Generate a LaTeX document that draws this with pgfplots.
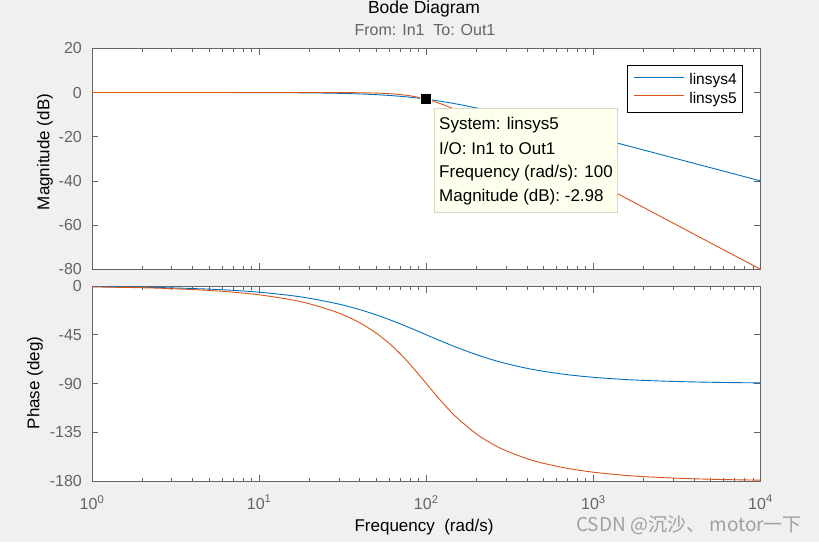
\documentclass[border=0pt]{standalone}
\usepackage{pgfplots}
\pgfplotsset{compat=1.18}
\usepackage{fontspec}
\setmainfont{Liberation Sans}
\newfontfamily\cjk{Noto Sans CJK SC}

\definecolor{figbg}{RGB}{240,240,240}
\definecolor{axgray}{RGB}{100,100,100}
\definecolor{mblue}{RGB}{0,114,189}
\definecolor{morange}{RGB}{217,83,25}
\definecolor{tipfill}{RGB}{255,255,238}
\definecolor{tipedge}{RGB}{215,215,195}

\pgfplotsset{
  bodeax/.style={
    scale only axis, width=668.5pt,
    xmin=1, xmax=10000,
    xtick={1,10,100,1000,10000},
    axis line style={axgray, line width=0.8pt},
    every tick/.style={axgray, line width=0.6pt},
    major tick length=6.5pt, minor tick length=3.5pt,
    tick label style={font=\fontsize{16}{18}\selectfont, text=axgray, inner sep=0pt},
    yticklabel style={xshift=-10pt},
    xticklabel style={yshift=-14pt},
    axis background/.style={fill=white},
  },
}

\begin{document}
\begin{tikzpicture}[x=1pt, y=1pt]
\useasboundingbox (0,0) rectangle (819,542);
\fill[figbg] (0,0) rectangle (819,542);

% magnitude
\begin{semilogxaxis}[bodeax, at={(92pt,272.7pt)}, anchor=south west, height=221pt,
  ymin=-80, ymax=20, ytick={-80,-60,-40,-20,0,20},
  yticklabels={-80,-60,-40,-20,0,20}, xticklabels={},
  legend style={at={(0.9738,0.9244)}, anchor=north east, draw=black,
    line width=0.6pt, fill=white, font=\fontsize{15.5}{17}\selectfont,
    inner xsep=6pt, inner ysep=8pt, nodes={inner sep=0pt}, column sep=5pt, row sep=6pt},
  legend cell align=left,
  legend image code/.code={\draw[#1, line width=0.9pt] (0pt,0.5ex) -- (50pt,0.5ex);},
]
\addplot[mblue, line width=0.9pt, smooth] coordinates {
 (1,-0.0004) (2,-0.0017) (5,-0.0108) (10,-0.0432) (20,-0.170) (30,-0.374)
 (40,-0.645) (50,-0.969) (60,-1.335) (70,-1.732) (80,-2.148) (90,-2.577)
 (100,-3.010) (110,-3.444) (125,-4.087) (150,-5.119) (200,-6.990) (250,-8.603)
 (300,-10.000) (400,-12.304) (500,-14.150) (700,-16.990) (1000,-20.043)
 (1500,-23.541) (2000,-26.031) (3000,-29.547) (5000,-33.981) (7000,-36.903)
 (10000,-40.000)
};
\addlegendentry{linsys4}
\addplot[morange, line width=0.9pt, smooth] coordinates {
 (1,0) (2,0) (5,0) (10,-0.0004) (20,-0.0069) (30,-0.035) (40,-0.110)
 (50,-0.263) (60,-0.530) (70,-0.935) (80,-1.491) (90,-2.191) (100,-3.010)
 (110,-3.917) (125,-5.367) (150,-7.827) (200,-12.304) (250,-16.027)
 (300,-19.138) (400,-24.099) (500,-27.966) (700,-33.806) (1000,-40.000)
 (1500,-47.044) (2000,-52.041) (3000,-59.085) (5000,-67.959) (7000,-73.804)
 (10000,-80.000)
};
\addlegendentry{linsys5}
% datatip marker
\addplot[forget plot, only marks, mark=square*, mark size=5.5pt,
  mark options={fill=black, draw=tipfill, line width=0.6pt}] coordinates {(100,-2.98)};
\end{semilogxaxis}

% phase
\begin{semilogxaxis}[bodeax, at={(92pt,61pt)}, anchor=south west, height=195pt,
  ymin=-180, ymax=0, ytick={-180,-135,-90,-45,0},
  yticklabels={-180,-135,-90,-45,0},
  xticklabels={10\textsuperscript{0},10\textsuperscript{1},10\textsuperscript{2},10\textsuperscript{3},10\textsuperscript{4}},
]
\addplot[mblue, line width=0.9pt, smooth] coordinates {
 (1,-0.573) (2,-1.146) (3,-1.718) (5,-2.862) (7,-4.004) (10,-5.711)
 (15,-8.531) (20,-11.310) (30,-16.699) (40,-21.801) (50,-26.565)
 (60,-30.964) (70,-34.992) (80,-38.660) (90,-41.987) (100,-45.000)
 (110,-47.726) (125,-51.340) (150,-56.310) (200,-63.435) (250,-68.199)
 (300,-71.565) (400,-75.964) (500,-78.690) (700,-81.870) (1000,-84.289)
 (1500,-86.186) (2000,-87.138) (3000,-88.091) (5000,-88.854) (7000,-89.182)
 (10000,-89.427)
};
\addplot[morange, line width=0.9pt, smooth] coordinates {
 (1,-0.810) (2,-1.621) (3,-2.432) (5,-4.055) (7,-5.681) (10,-8.130)
 (15,-12.244) (20,-16.418) (30,-24.990) (40,-33.960) (50,-43.310)
 (60,-52.980) (70,-62.740) (80,-72.350) (90,-81.510) (100,-90.000)
 (110,-97.690) (125,-107.650) (150,-120.510) (200,-136.690) (250,-146.040)
 (300,-152.060) (400,-159.340) (500,-163.580) (700,-168.350) (1000,-171.870)
 (1500,-174.590) (2000,-175.950) (3000,-177.300) (5000,-178.380)
 (7000,-178.840) (10000,-179.190)
};
\end{semilogxaxis}

% datatip box
\draw[tipedge, fill=tipfill, line width=0.7pt] (434.5,434) rectangle (617,330);
\begin{scope}[every node/.style={anchor=base west, inner sep=0pt, font=\fontsize{17}{20}\selectfont}]
\node at (439,412) {System: linsys5};
\node at (439,388) {I/O: In1 to Out1};
\node at (439,365) {Frequency (rad/s): 100};
\node at (439,340.5) {Magnitude (dB): -2.98};
\end{scope}

% titles and labels
\node[anchor=base, inner sep=0pt, font=\fontsize{17.5}{20}\selectfont] at (424,528.5) {Bode Diagram};
\node[anchor=base, inner sep=0pt, text=axgray, font=\fontsize{16}{18}\selectfont] at (425,506) {From: In1\ \ To: Out1};
\node[rotate=90, inner sep=0pt, font=\fontsize{17}{20}\selectfont] at (45,390) {Magnitude (dB)};
\node[rotate=90, inner sep=0pt, font=\fontsize{17}{20}\selectfont] at (35,159) {Phase (deg)};
\node[anchor=base, inner sep=0pt, font=\fontsize{17}{20}\selectfont] at (424,11) {Frequency\ \ (rad/s)};
\node[anchor=base west, inner sep=0pt, text={rgb,255:red,160;green,160;blue,160}, font=\fontsize{19}{22}\selectfont] at (576,11) {\cjk CSDN @沉沙、 motor一下};
\end{tikzpicture}
\end{document}
